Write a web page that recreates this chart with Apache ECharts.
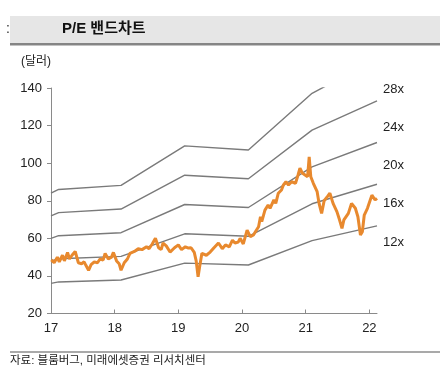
<!DOCTYPE html>
<html><head><meta charset="utf-8">
<script src="https://cdn.jsdelivr.net/npm/echarts@6/dist/echarts.min.js"></script>
<style>html,body{margin:0;padding:0;background:#fff}#c{width:440px;height:385px}</style>
</head><body><div id="c"></div>
<script>
const title = 'P/E 밴드차트';
const unitLabel = '(달러)';
const source = '자료: 블룸버그, 미래에셋증권 리서치센터';
const bandNames = ['28x','24x','20x','16x','12x'];
const bandDates = [17.0, 17.12, 18.1, 19.1, 20.1, 21.1, 22.12];
const band28 = [84, 86, 88.2, 109.2, 107, 137.2, 155.4];
const band24 = [72, 73.7, 75.6, 93.6, 91.7, 117.6, 133.2];
const band20 = [60, 61.4, 63, 78, 76.4, 98, 111];
const band16 = [48, 49.1, 50.4, 62.4, 61.1, 78.4, 88.8];
const band12 = [36, 36.8, 37.8, 46.8, 45.8, 58.8, 66.6];
const priceDates = [17.005,17.05,17.10,17.13,17.18,17.21,17.26,17.29,17.33,17.38,17.43,17.48,17.52,17.55,17.59,17.63,17.68,17.73,17.77,17.82,17.85,17.90,17.95,17.98,18.03,18.07,18.10,18.15,18.20,18.24,18.31,18.37,18.43,18.50,18.54,18.59,18.64,18.69,18.73,18.76,18.81,18.87,18.94,19.0,19.05,19.11,19.16,19.20,19.25,19.28,19.31,19.34,19.37,19.44,19.50,19.56,19.63,19.69,19.74,19.80,19.85,19.89,19.94,19.97,20.02,20.08,20.13,20.18,20.21,20.26,20.29,20.31,20.36,20.41,20.44,20.50,20.53,20.57,20.62,20.65,20.69,20.73,20.78,20.84,20.88,20.91,20.95,20.99,21.03,21.055,21.08,21.12,21.18,21.21,21.25,21.29,21.34,21.38,21.43,21.49,21.53,21.57,21.60,21.67,21.72,21.78,21.82,21.86,21.89,21.92,21.97,22.01,22.04,22.09,22.12];
const prices = [48.5,47,50,47.5,51,48,52.5,49,51,53,47,46.5,47.5,45.5,43,46,47.5,47,49,48.5,52,49,50,52.5,48,46.5,43,47,49,52,53,54.5,54,55.5,54.5,57,60,55,54,57.5,56,52.7,55,56.5,54,55.5,54.8,55,52.5,48,39.5,46,52,51,52.7,55,57.5,54.5,56.5,55.5,59,57.5,58,60,57,64.4,60.9,61.8,63.5,66.2,71.5,68.9,75,77.7,76,80.4,78.6,84,85.7,88.4,90.1,88.4,90.1,89.3,93.7,97.3,94.6,93.7,92.8,103.4,92.8,89.3,84.8,78.6,73.3,80,82.2,84,78.6,74.2,70,65.3,69.8,73.3,78.6,76,71.5,61.8,63.5,72.4,76,80,83,80.4,81.3];

const pair = (xs, ys) => xs.map((x, i) => [x, ys[i]]);
const bands = [band28, band24, band20, band16, band12];
const FONT = "'Liberation Sans', 'Noto Sans CJK KR', sans-serif";
const chart = echarts.init(document.getElementById('c'), null, {renderer: 'canvas'});
const bandSeries = bands.map((b, i) => ({
  name: bandNames[i], type: 'line', data: pair(bandDates, b), symbol: 'none', clip: true,
  lineStyle: {color: '#7a7a7a', width: 1.4}, z: 2, silent: true
}));
const labelYs = [91, 129, 167, 205, 244];
chart.setOption({
  animation: false,
  grid: {left: 51, right: 63, top: 88, bottom: 71.5, containLabel: false},
  xAxis: {
    type: 'value', min: 17, max: 22.12, interval: 1,
    axisLine: {show: true, lineStyle: {color: '#8a8a8a', width: 1}},
    axisTick: {show: true, inside: true, length: 4, lineStyle: {color: '#8a8a8a'}},
    splitLine: {show: false},
    axisLabel: {color: '#222', fontSize: 13, fontFamily: FONT, margin: 8, showMaxLabel: false,
      formatter: v => Math.abs(v - Math.round(v)) < 1e-6 ? String(Math.round(v)) : ''}
  },
  yAxis: {
    type: 'value', min: 20, max: 140, interval: 20,
    axisLine: {show: true, lineStyle: {color: '#8a8a8a', width: 1}},
    axisTick: {show: true, inside: false, length: 4, lineStyle: {color: '#8a8a8a'}},
    splitLine: {show: false},
    axisLabel: {color: '#222', fontSize: 13, fontFamily: FONT, margin: 9}
  },
  series: bandSeries.concat([{
    name: 'price', type: 'line', data: pair(priceDates, prices), symbol: 'none',
    lineStyle: {color: '#E8892E', width: 3}, z: 5, silent: true
  }]),
  graphic: [
    {type: 'rect', shape: {x: 10, y: 16, width: 430, height: 28}, style: {fill: '#e6e6e6'}},
    {type: 'rect', shape: {x: 10, y: 43, width: 430, height: 2.5}, style: {fill: '#858585'}},
    {type: 'text', left: 6, top: 22, style: {text: ':', fontSize: 14, fill: '#333', fontFamily: FONT}},
    {type: 'text', left: 62, top: 21, style: {text: title, fontSize: 15, fontWeight: 'bold', fill: '#111', fontFamily: FONT}},
    {type: 'text', left: 21, top: 56, style: {text: unitLabel, fontSize: 12, fill: '#222', fontFamily: FONT}},
    {type: 'rect', shape: {x: 10, y: 351.5, width: 430, height: 1}, style: {fill: '#555'}},
    {type: 'text', left: 10, top: 355, style: {text: source, fontSize: 11.5, fill: '#222', fontFamily: FONT}}
  ].concat(bandNames.map((n, i) => ({
    type: 'text', left: 383, top: labelYs[i] - 8, style: {text: n, fontSize: 13, fill: '#222', fontFamily: FONT}
  })))
});
</script></body></html>
